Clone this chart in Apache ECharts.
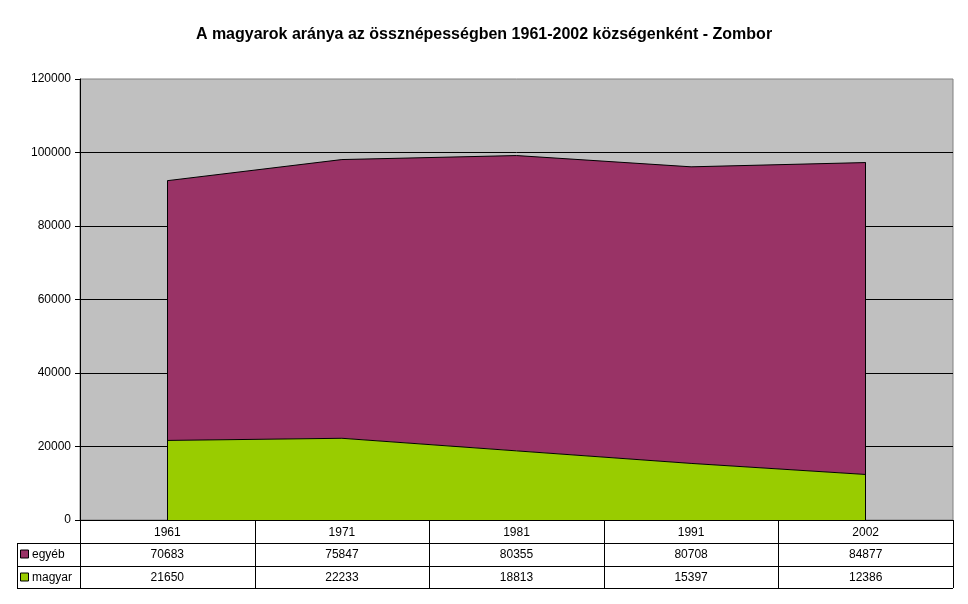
<!DOCTYPE html>
<html>
<head>
<meta charset="utf-8">
<script src="https://cdn.jsdelivr.net/npm/echarts@6/dist/echarts.min.js"></script>
<style>
html,body{margin:0;padding:0;background:#fff;}
#main{width:968px;height:604px;}
</style>
</head>
<body>
<div id="main"></div>
<script>
var years = ['1961', '1971', '1981', '1991', '2002'];
var egyeb = [70683, 75847, 80355, 80708, 84877];
var magyar = [21650, 22233, 18813, 15397, 12386];
var yTicks = [0, 20000, 40000, 60000, 80000, 100000, 120000];

var FONT = 'Liberation Sans, Arial, sans-serif';
var gLeft = 80, gRight = 953, gTop = 79, gBottom = 520;
var rowH = 23, labelLeft = 17;

var myChart = echarts.init(document.getElementById('main'));

// teteje = magyar + egyéb, ehhez kell a két szélső függőleges vonal
var totals = [];
for (var i = 0; i < years.length; i++) totals.push(magyar[i] + egyeb[i]);

var option = {
	backgroundColor: '#fff',
	animation: false,
	title: {
		text: 'A magyarok aránya az össznépességben 1961-2002 községenként - Zombor',
		left: 'center',
		top: 22,
		textStyle: {fontFamily: FONT, fontSize: 16, fontWeight: 'bold', color: '#000'}
	},
	grid: {
		left: gLeft, right: 968 - gRight, top: gTop, bottom: 604 - gBottom,
		show: true, backgroundColor: '#C0C0C0', borderColor: '#808080', borderWidth: 1
	},
	xAxis: {
		type: 'category',
		data: years,
		boundaryGap: true,
		axisLine: {lineStyle: {color: '#000', width: 1}},
		axisTick: {show: false},
		axisLabel: {color: '#000', fontFamily: FONT, fontSize: 12, margin: 7}
	},
	yAxis: {
		type: 'value',
		min: yTicks[0],
		max: yTicks[yTicks.length - 1],
		interval: 20000,
		axisLine: {show: true, lineStyle: {color: '#000', width: 1}},
		axisTick: {show: true, length: 5, lineStyle: {color: '#000'}},
		axisLabel: {color: '#000', fontFamily: FONT, fontSize: 12, margin: 9,
			formatter: function(v){ return String(v); }},
		splitLine: {show: true, showMaxLine: false, lineStyle: {color: '#000', width: 1}}
	},
	series: [{
		name: 'magyar',
		type: 'line',
		stack: 'total',
		data: magyar,
		symbol: 'none',
		lineStyle: {color: '#000', width: 1},
		areaStyle: {color: '#99CC00', opacity: 1},
		z: 3
	}, {
		name: 'egyéb',
		type: 'line',
		stack: 'total',
		data: egyeb,
		symbol: 'none',
		lineStyle: {color: '#000', width: 1},
		areaStyle: {color: '#993366', opacity: 1},
		z: 2,
		markLine: {
			silent: true,
			symbol: ['none', 'none'],
			label: {show: false},
			lineStyle: {color: '#000', width: 1, type: 'solid'},
			data: [
				[{coord: [0, 0]}, {coord: [0, totals[0]]}],
				[{coord: [years.length - 1, 0]}, {coord: [years.length - 1, totals[years.length - 1]]}]
			]
		}
	}]
};
myChart.setOption(option);

//adattábla a diagram alatt
function drawTable(){
	var els = [];
	var colW = (gRight - gLeft) / years.length;
	var line = function(x1, y1, x2, y2){
		els.push({type: 'line', shape: {x1: x1, y1: y1, x2: x2, y2: y2},
			style: {stroke: '#000', lineWidth: 1}, z: 100});
	};
	var y0 = gBottom, y1 = gBottom + rowH, y2 = y1 + rowH, y3 = y2 + rowH - 1;
	// vízszintes vonalak
	line(gLeft, y0 + 0.5, gRight, y0 + 0.5);
	line(labelLeft, y1 + 0.5, gRight, y1 + 0.5);
	line(labelLeft, y2 + 0.5, gRight, y2 + 0.5);
	line(labelLeft, y3 + 0.5, gRight, y3 + 0.5);
	// függőleges vonalak
	line(labelLeft + 0.5, y1, labelLeft + 0.5, y3);
	for (var i = 0; i <= years.length; i++) {
		var x = Math.round(gLeft + i * colW) + 0.5;
		line(x, y0, x, y3);
	}
	var rows = [{name: 'egyéb', color: '#993366', vals: egyeb, y: y1},
		{name: 'magyar', color: '#99CC00', vals: magyar, y: y2}];
	rows.forEach(function(r){
		var cy = r.y + rowH / 2;
		els.push({type: 'rect', shape: {x: labelLeft + 3.5, y: cy - 4.5, width: 8, height: 8},
			style: {fill: r.color, stroke: '#000', lineWidth: 1}, z: 100});
		els.push({type: 'text', x: labelLeft + 15, y: cy,
			style: {text: r.name, fill: '#000', font: '12px ' + FONT, verticalAlign: 'middle', textAlign: 'left'}, z: 100});
		for (var j = 0; j < r.vals.length; j++) {
			var px = myChart.convertToPixel({xAxisIndex: 0}, years[j]);
			els.push({type: 'text', x: px, y: cy,
				style: {text: String(r.vals[j]), fill: '#000', font: '12px ' + FONT, verticalAlign: 'middle', textAlign: 'center'}, z: 100});
		}
	});
	myChart.setOption({graphic: els});
}
drawTable();
</script>
</body>
</html>
